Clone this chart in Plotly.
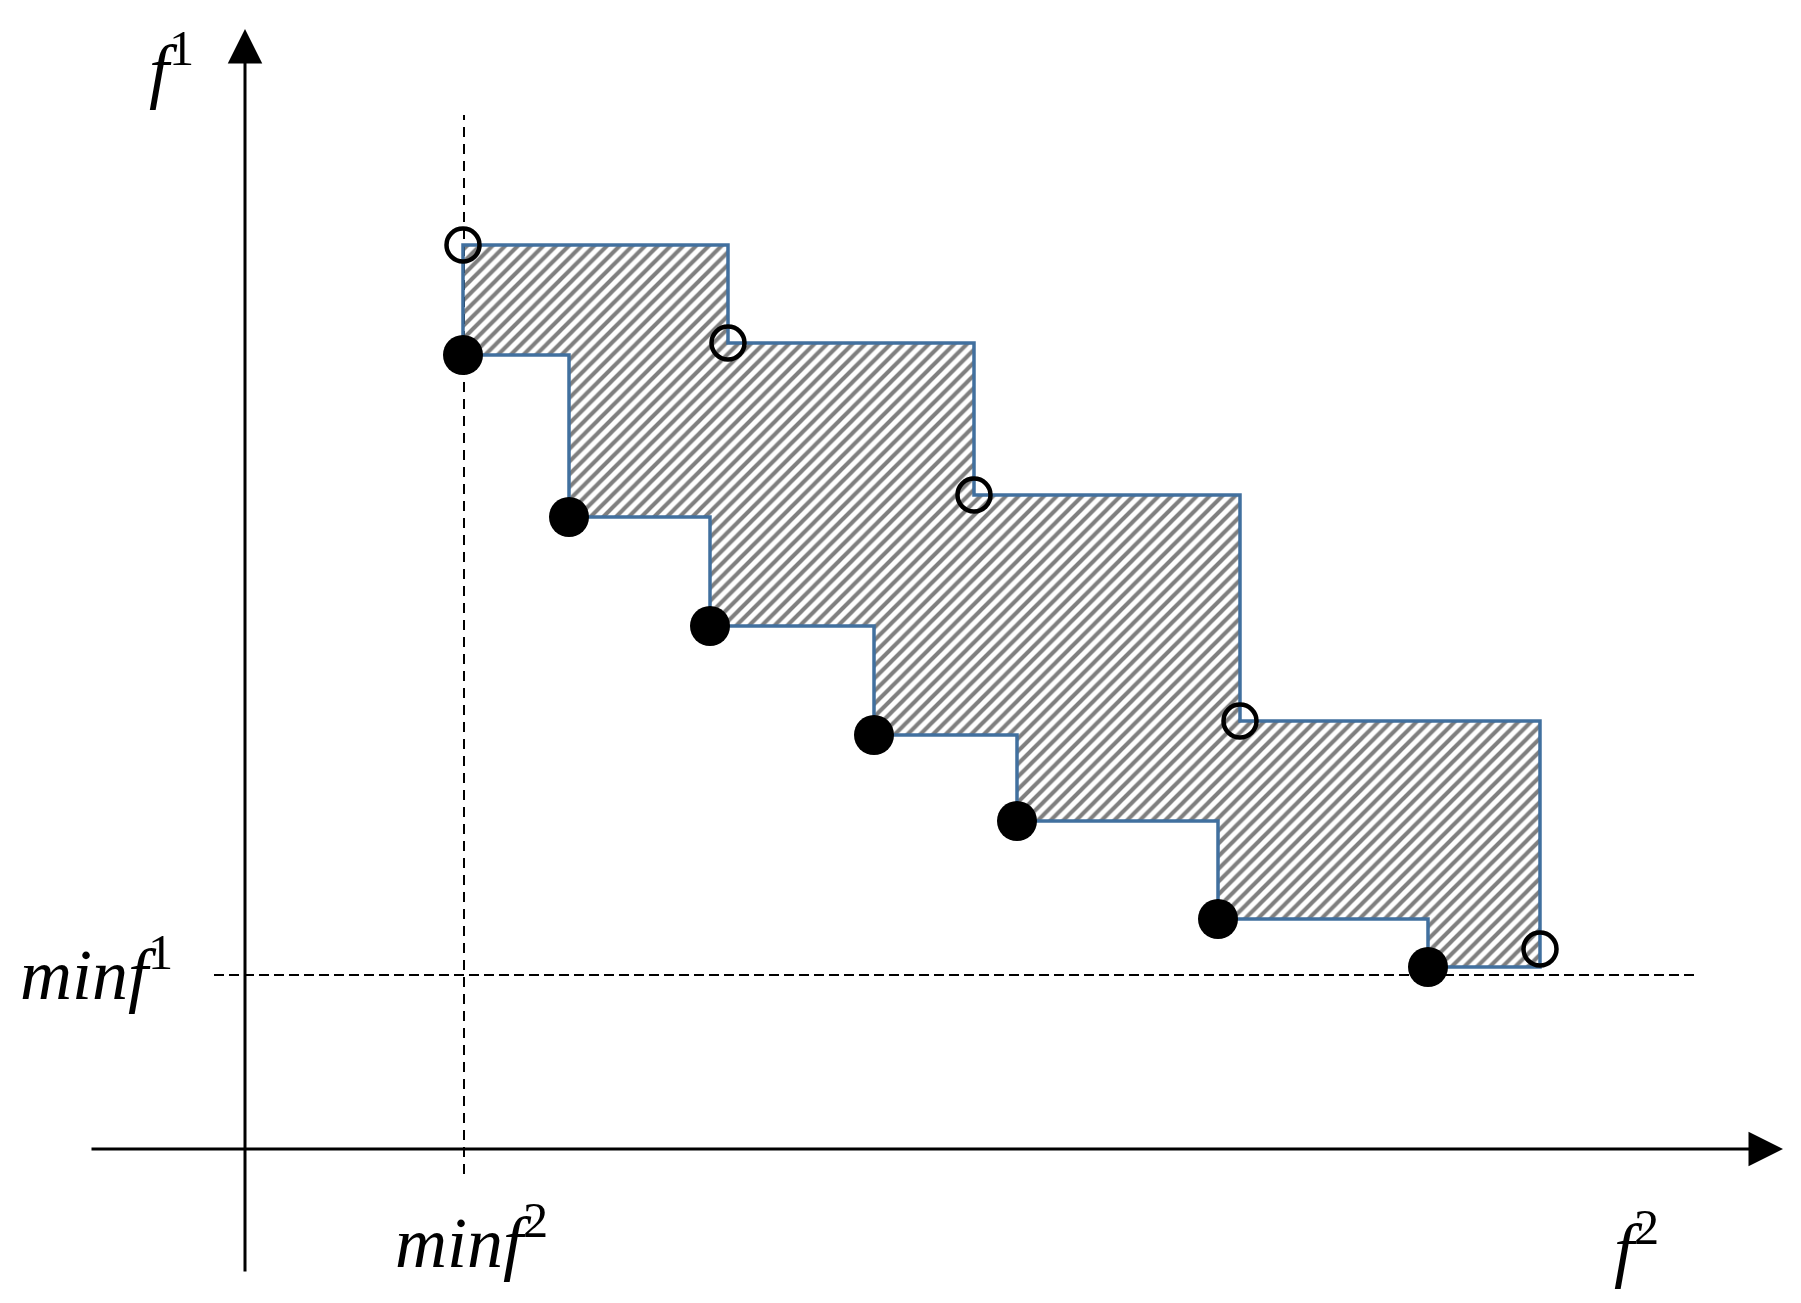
import plotly.graph_objects as go

# 坐标单位: 以两轴交点为原点
min_f2 = 2.19
min_f1 = 1.74

# 非支配解 (实心点)
front_x = [2.18, 3.24, 4.65, 6.29, 7.72, 9.73, 11.83]
front_y = [7.94, 6.32, 5.23, 4.14, 3.28, 2.30, 1.82]

# 参考点 (空心点)
ref_x = [2.18, 4.83, 7.29, 9.95, 12.95]
ref_y = [9.04, 8.06, 6.54, 4.28, 2.00]

BLUE = "#41709f"
FONT = "Liberation Serif, Times New Roman, DejaVu Serif, serif"


def hv(xs, ys):
    """阶梯线: 先水平再竖直"""
    px, py = [xs[0]], [ys[0]]
    for i in range(1, len(xs)):
        px += [xs[i], xs[i]]
        py += [ys[i - 1], ys[i]]
    return px, py


low_x, low_y = hv(front_x, front_y)
up_x, up_y = hv(ref_x, ref_y)
# 上边界: 从第一个实心点向上, 沿参考点阶梯, 最后竖直落到最后一个实心点高度
upper_x = [front_x[0]] + up_x + [up_x[-1], front_x[-1]]
upper_y = [front_y[0]] + up_y + [front_y[-1], front_y[-1]]

poly_x = upper_x + low_x[::-1]
poly_y = upper_y + low_y[::-1]

fig = go.Figure()

# 阴影区域
fig.add_trace(go.Scatter(
    x=poly_x, y=poly_y, mode="lines", fill="toself",
    fillcolor="white",
    fillpattern=dict(shape="/", size=9, solidity=0.45, fgcolor="black", bgcolor="white"),
    line=dict(width=0), hoverinfo="skip",
))

# 辅助虚线
fig.add_trace(go.Scatter(
    x=[min_f2, min_f2], y=[-0.25, 10.34], mode="lines",
    line=dict(color="black", width=2, dash="10px,7px"),
))
fig.add_trace(go.Scatter(
    x=[-0.31, 14.53], y=[min_f1, min_f1], mode="lines",
    line=dict(color="black", width=2, dash="10px,5px"),
))

# 蓝色阶梯边界
fig.add_trace(go.Scatter(x=upper_x, y=upper_y, mode="lines", line=dict(color=BLUE, width=3.5)))
fig.add_trace(go.Scatter(x=low_x, y=low_y, mode="lines", line=dict(color=BLUE, width=3.5)))

# 点
fig.add_trace(go.Scatter(
    x=front_x, y=front_y, mode="markers",
    marker=dict(size=40, color="black", line=dict(width=0)),
))
fig.add_trace(go.Scatter(
    x=ref_x, y=ref_y, mode="markers",
    marker=dict(size=33, color="rgba(0,0,0,0)", line=dict(width=4.5, color="black")),
))

# 坐标轴箭头
fig.add_annotation(x=15.38, y=0, ax=-1.55, ay=0, xref="x", yref="y", axref="x", ayref="y",
                   text="", showarrow=True, arrowhead=2, arrowsize=2.3, arrowwidth=3,
                   arrowcolor="black", standoff=0)
fig.add_annotation(x=0, y=11.2, ax=0, ay=-1.24, xref="x", yref="y", axref="x", ayref="y",
                   text="", showarrow=True, arrowhead=2, arrowsize=2.3, arrowwidth=3,
                   arrowcolor="black", standoff=0)

# 文字
labels = [
    ("<i>f</i><sup>1</sup>", -0.98, 10.84),
    ("<i>minf</i><sup>1</sup>", -2.27, 1.80),
    ("<i>minf</i><sup>2</sup>", 1.48, -0.88),
    ("<i>f</i><sup>2</sup>", 13.67, -0.95),
]
for txt, lx, ly in labels:
    fig.add_annotation(x=lx, y=ly, xref="x", yref="y", text=txt, showarrow=False,
                       xanchor="left", yanchor="middle",
                       font=dict(family=FONT, size=72, color="black"))

fig.update_xaxes(range=[-2.45, 15.56], visible=False, fixedrange=True)
fig.update_yaxes(range=[-1.54, 11.49], visible=False, fixedrange=True)
fig.update_layout(
    width=1801, height=1303, showlegend=False,
    margin=dict(l=0, r=0, t=0, b=0),
    paper_bgcolor="white", plot_bgcolor="white",
)

fig.write_html("out.html", config={"displayModeBar": False},
               post_script="document.body.style.margin='0';")
